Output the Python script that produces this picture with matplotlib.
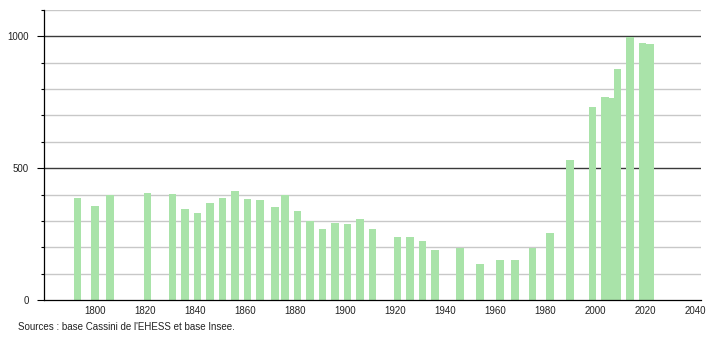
import matplotlib
matplotlib.use('Agg')
import matplotlib.pyplot as plt

# census years and population
years = [1793, 1800, 1806, 1821, 1831, 1836, 1841, 1846, 1851, 1856,
         1861, 1866, 1872, 1876, 1881, 1886, 1891, 1896, 1901, 1906,
         1911, 1921, 1926, 1931, 1936, 1946, 1954, 1962, 1968, 1975,
         1982, 1990, 1999, 2004, 2006, 2009, 2014, 2019, 2022]
population = [388, 357, 397, 405, 403, 345, 330, 367, 387, 414,
              384, 378, 352, 398, 338, 298, 270, 291, 289, 307,
              269, 238, 238, 225, 190, 196, 137, 152, 152, 196,
              253, 532, 731, 771, 767, 877, 999, 973, 970]

xticks = list(range(1800, 2041, 20))
yticks_major = [0, 500, 1000]
yticks_minor = [100, 200, 300, 400, 600, 700, 800, 900, 1100]
source = "Sources : base Cassini de l'EHESS et base Insee."

plt.rcParams['font.family'] = ['Liberation Sans', 'DejaVu Sans']

fig = plt.figure(figsize=(7.1, 3.4), dpi=100)
ax = fig.add_axes([44 / 710, 40 / 340, 657 / 710, 290 / 340])

for v in yticks_minor:
    ax.axhline(v, color='#c8c8c8', lw=1.0, zorder=0)
for v in yticks_major[1:]:
    ax.axhline(v, color='#3a3a3a', lw=1.0, zorder=0)

ax.bar(years, population, width=2.9, color='#a9e3a9', zorder=2)

ax.set_xlim(1779.6, 2042.4)
ax.set_ylim(0, 1100)
ax.set_xticks(xticks)
ax.set_xticklabels([str(x) for x in xticks], fontsize=7, color='#222222')
ax.tick_params(axis='x', length=0, pad=4)
ax.set_yticks(yticks_major)
ax.set_yticklabels([str(v) for v in yticks_major], fontsize=7, color='#222222')
ax.set_yticks(yticks_minor, minor=True)
ax.tick_params(axis='y', which='major', length=5, width=0.8, pad=6)
ax.tick_params(axis='y', which='minor', length=2, width=0.8)

for side in ['top', 'right']:
    ax.spines[side].set_visible(False)
ax.spines['left'].set_linewidth(0.9)
ax.spines['bottom'].set_linewidth(0.9)

fig.text(18 / 710, 1 - 327 / 340, source, fontsize=7, color='#222222', va='center')

fig.savefig('out.png', dpi=100)
